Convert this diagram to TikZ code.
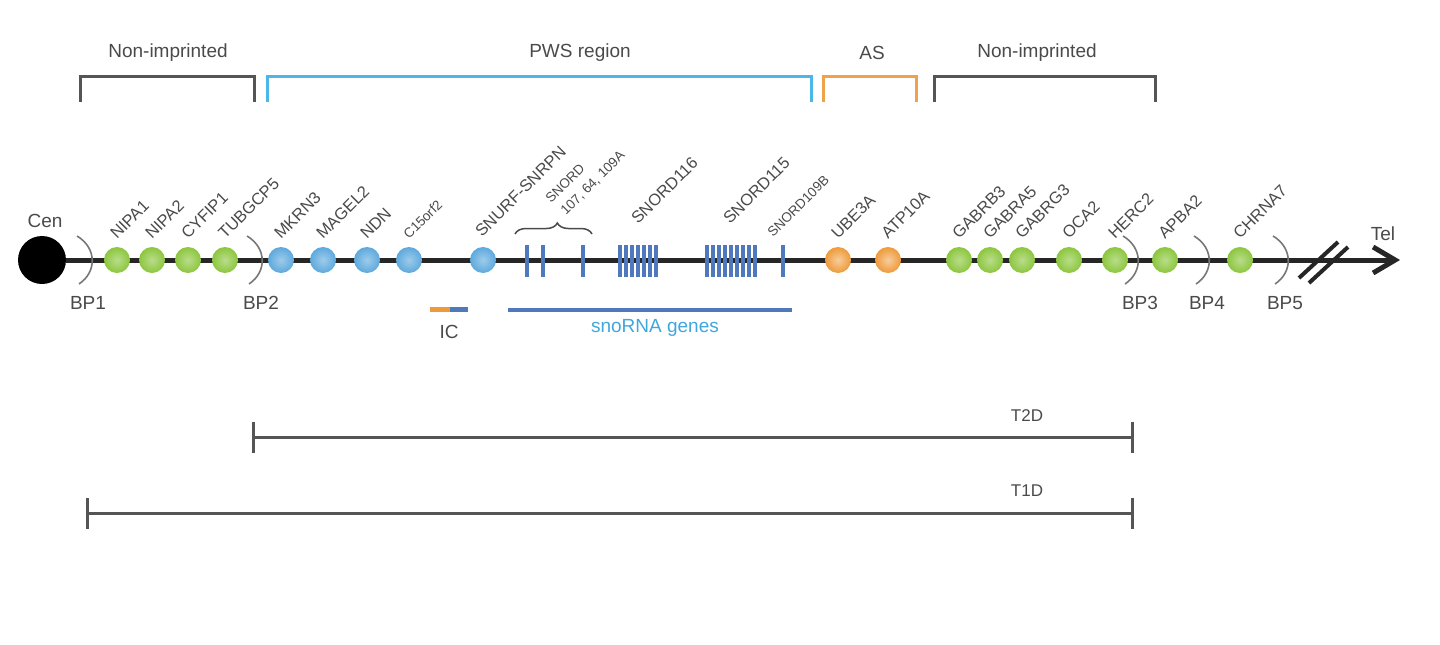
\documentclass[tikz,border=0pt]{standalone}
\usepackage{fontspec}
\setmainfont{Liberation Sans}
\usetikzlibrary{arrows.meta,decorations.pathreplacing}
\definecolor{gnc}{HTML}{8CC63E}
\definecolor{blc}{HTML}{5DA9DD}
\definecolor{orc}{HTML}{EE9A3A}
\definecolor{barc}{HTML}{4F79BC}
\definecolor{pwsc}{HTML}{4DB6E8}
\definecolor{asc}{HTML}{F0A24A}
\definecolor{brkc}{HTML}{555555}
\definecolor{txt}{HTML}{4A4A4A}
\definecolor{linec}{HTML}{262626}
\definecolor{snoc}{HTML}{3FA6DE}
\begin{document}
\begin{tikzpicture}[x=1pt,y=-1pt,
  lbl/.style={text=txt,font=\fontsize{19}{22}\selectfont,inner sep=0},
  glbl/.style={text=txt,font=\fontsize{16.5}{19}\selectfont,inner sep=0,rotate=45,anchor=base west},
  slbl/.style={glbl,font=\fontsize{13.5}{15}\selectfont},
  gene/.style={circle,inner sep=0,minimum size=26pt},
  gG/.style={gene,inner color=gnc!60!white,outer color=gnc},
  gB/.style={gene,inner color=blc!60!white,outer color=blc},
  gO/.style={gene,inner color=orc!50!white,outer color=orc},
  bar/.style={fill=barc},
  brk/.style={line width=3pt},
  bpc/.style={draw=brkc!80,line width=1.6pt},
  rng/.style={draw=brkc,line width=3pt,{Bar[width=31pt]}-{Bar[width=31pt]}},
  bp/.pic={\draw[bpc] (-8,-24) .. controls (12,-12) and (12,12) .. (-6,24);}
]
\useasboundingbox (0,0) rectangle (1440,645);

% top brackets
\draw[brk,draw=brkc] (80,102) -- (80,76) -- (254,76) -- (254,102);
\draw[brk,draw=pwsc] (267,102) -- (267,76) -- (811,76) -- (811,102);
\draw[brk,draw=asc] (823,102) -- (823,76) -- (916,76) -- (916,102);
\draw[brk,draw=brkc] (934,102) -- (934,76) -- (1155,76) -- (1155,102);
\node[lbl] (ni1) at (168,53) {Non-imprinted};
\node[lbl] (pws) at (580,53) {PWS region};
\node[lbl] (as) at (872,53) {AS};
\node[lbl] (ni2) at (1037,53) {Non-imprinted};

% chromosome
\node[circle,fill=black,inner sep=0,minimum size=48pt] (cen) at (42,260) {};
\node[lbl] (cenl) at (45,221) {Cen};
\coordinate (telend) at (1400,260);
\draw[draw=linec,line width=5pt,-{Straight Barb[length=22pt,width=26pt]}] (cen) -- (telend);
\node[lbl] (tel) at (1383,234) {Tel};
\draw[draw=linec,line width=4pt] (1299,278) -- (1338,242);
\draw[draw=linec,line width=4pt] (1309,283) -- (1348,247);

% snoRNA bars
\foreach \x in {527,543,583,783} {\fill[bar] (\x-2.3,245) rectangle (\x+2.3,277);}
\foreach \k in {0,...,6} {\fill[bar] (620+6*\k-2.2,245) rectangle (620+6*\k+2.2,277);}
\foreach \k in {0,...,8} {\fill[bar] (707+6*\k-2.2,245) rectangle (707+6*\k+2.2,277);}

% genes
\node[gG] (nipa1) at (117,260) {};
\node[gG] (nipa2) at (152,260) {};
\node[gG] (cyfip1) at (188,260) {};
\node[gG] (tubgcp5) at (225,260) {};
\node[gB] (mkrn3) at (281,260) {};
\node[gB] (magel2) at (323,260) {};
\node[gB] (ndn) at (367,260) {};
\node[gB] (c15) at (409,260) {};
\node[gB] (snurf) at (483,260) {};
\node[gO] (ube3a) at (838,260) {};
\node[gO] (atp10a) at (888,260) {};
\node[gG] (gabrb3) at (959,260) {};
\node[gG] (gabra5) at (990,260) {};
\node[gG] (gabrg3) at (1022,260) {};
\node[gG] (oca2) at (1069,260) {};
\node[gG] (herc2) at (1115,260) {};
\node[gG] (apba2) at (1165,260) {};
\node[gG] (chrna7) at (1240,260) {};

% gene labels
\node[glbl] (lnipa1) at (117,240) {NIPA1};
\node[glbl] (lnipa2) at (152,240) {NIPA2};
\node[glbl] (lcyfip1) at (188,240) {CYFIP1};
\node[glbl] (ltubgcp5) at (225,240) {TUBGCP5};
\node[glbl] (lmkrn3) at (281,240) {MKRN3};
\node[glbl] (lmagel2) at (323,240) {MAGEL2};
\node[glbl] (lndn) at (367,240) {NDN};
\node[slbl] (lc15) at (409,240) {C15orf2};
\node[glbl] (lsnurf) at (482,238) {SNURF-SNRPN};
\node[slbl] (lsnord1) at (551,204) {SNORD};
\node[slbl] (lsnord2) at (566,216) {107, 64, 109A};
\node[glbl] (l116) at (638,225) {SNORD116};
\node[glbl] (l115) at (730,225) {SNORD115};
\node[slbl] (l109b) at (773,238) {SNORD109B};
\node[glbl] (lube3a) at (838,240) {UBE3A};
\node[glbl] (latp10a) at (888,240) {ATP10A};
\node[glbl] (lgabrb3) at (959,240) {GABRB3};
\node[glbl] (lgabra5) at (990,240) {GABRA5};
\node[glbl] (lgabrg3) at (1022,240) {GABRG3};
\node[glbl] (loca2) at (1069,240) {OCA2};
\node[glbl] (lherc2) at (1115,240) {HERC2};
\node[glbl] (lapba2) at (1165,240) {APBA2};
\node[glbl] (lchrna7) at (1240,240) {CHRNA7};

% brace
\draw[draw=txt,line width=1.5pt,decorate,decoration={brace,amplitude=11pt,aspect=0.55}] (515,234) -- (592,234);

% breakpoints
\pic at (85,260) {bp};
\pic at (255,260) {bp};
\pic at (1131,260) {bp};
\pic at (1202,260) {bp};
\pic at (1281,260) {bp};
\node[lbl] (bp1) at (88,303) {BP1};
\node[lbl] (bp2) at (261,303) {BP2};
\node[lbl] (bp3) at (1140,303) {BP3};
\node[lbl] (bp4) at (1207,303) {BP4};
\node[lbl] (bp5) at (1285,303) {BP5};

% IC and snoRNA genes
\draw[draw=orc,line width=5pt] (430,309) -- (450,309);
\draw[draw=barc,line width=5pt] (450,309) -- (468,309);
\node[lbl] (ic) at (449,332) {IC};
\draw[draw=barc,line width=4pt] (508,310) -- (792,310);
\node[lbl,text=snoc] (sno) at (655,328) {snoRNA genes};

% deletion ranges
\coordinate (t2a) at (252,437);
\coordinate (t2b) at (1134,437);
\draw[rng] (t2a) -- (t2b);
\node[lbl,font=\fontsize{17}{20}\selectfont] (t2d) at (1027,416) {T2D};
\coordinate (t1a) at (86,513);
\coordinate (t1b) at (1134,513);
\draw[rng] (t1a) -- (t1b);
\node[lbl,font=\fontsize{17}{20}\selectfont] (t1d) at (1027,491) {T1D};
\end{tikzpicture}
\end{document}
